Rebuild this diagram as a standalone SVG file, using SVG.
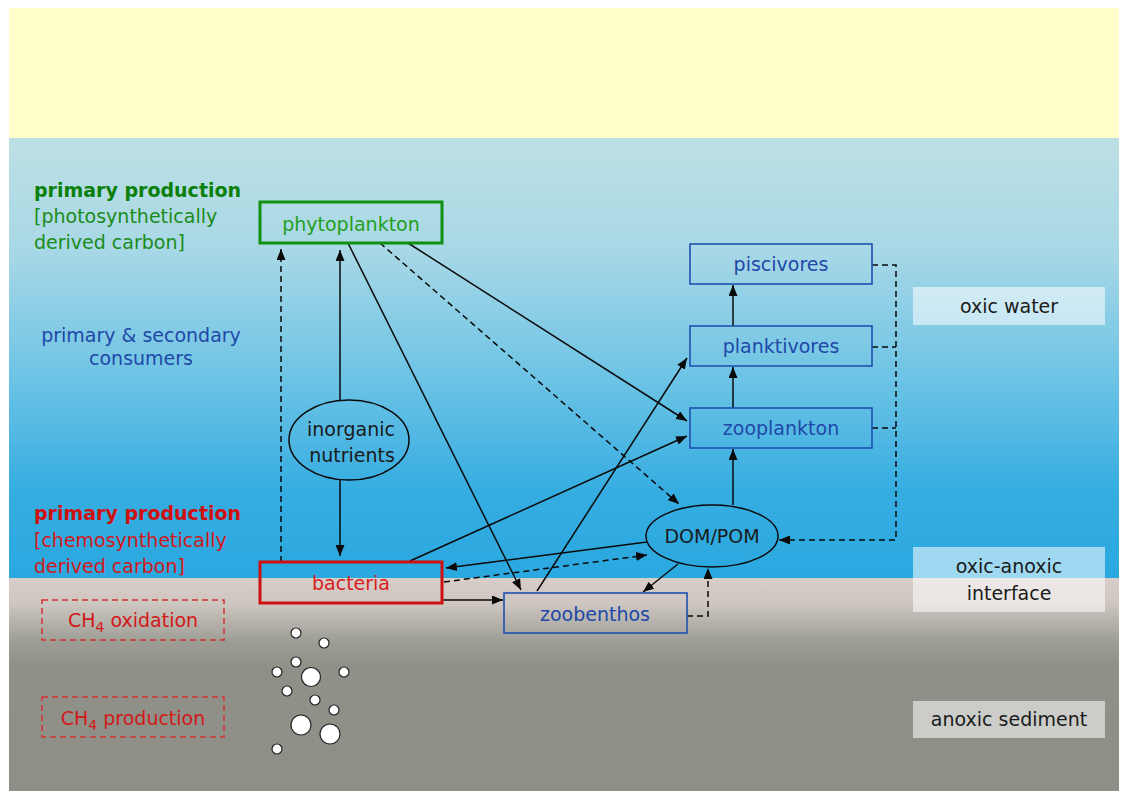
<svg xmlns="http://www.w3.org/2000/svg" width="1122" height="794" viewBox="0 0 1122 794">
<style>
text{font-family:"DejaVu Sans","Verdana",sans-serif;font-size:19px}
.g{fill:#1a8c1a}.gb{fill:#0a800a;font-weight:bold}
.r{fill:#d21818}.rb{fill:#d01010;font-weight:bold}
.b{fill:#2048a8}
.k{fill:#1a1a1a}
.c{text-anchor:middle}
.bn{fill:none;stroke:#2050b0;stroke-width:1.6}
.lab{fill:#ffffff;fill-opacity:0.55}
.ln{fill:none;stroke:#0a0a0a;stroke-width:1.5}
.ds{stroke-dasharray:6 4}
</style>
<defs>
<linearGradient id="water" x1="0" y1="0" x2="0" y2="1">
<stop offset="0" stop-color="#bce0e4"/>
<stop offset="0.25" stop-color="#a9d8e6"/>
<stop offset="0.55" stop-color="#6cc3e5"/>
<stop offset="0.8" stop-color="#36ade1"/>
<stop offset="1" stop-color="#2aa8e0"/>
</linearGradient>
<linearGradient id="sed" x1="0" y1="0" x2="0" y2="1">
<stop offset="0" stop-color="#d7cdc9"/>
<stop offset="0.12" stop-color="#cec6c1"/>
<stop offset="0.3" stop-color="#9c9d95"/>
<stop offset="0.42" stop-color="#8f9189"/>
<stop offset="1" stop-color="#8e9088"/>
</linearGradient>
<marker id="ah" markerUnits="userSpaceOnUse" markerWidth="11" markerHeight="9" refX="11" refY="4.5" orient="auto">
<path d="M0,0 L11,4.5 L0,9 z" fill="#0a0a0a"/>
</marker>
</defs>
<rect width="1122" height="794" fill="#ffffff"/>
<rect x="9" y="8" width="1110" height="130" fill="#ffffcc"/>
<rect x="9" y="138" width="1110" height="440" fill="url(#water)"/>
<rect x="9" y="578" width="1110" height="213" fill="url(#sed)"/>

<g id="left-labels">
<text x="34" y="197" class="gb">primary production</text>
<text x="34" y="223" class="g">[photosynthetically</text>
<text x="34" y="249" class="g">derived carbon]</text>
<text x="141" y="342" class="b c">primary &amp; secondary</text>
<text x="141" y="365" class="b c">consumers</text>
<text x="34" y="520" class="rb">primary production</text>
<text x="34" y="547" class="r">[chemosynthetically</text>
<text x="34" y="573" class="r">derived carbon]</text>
</g>

<g id="right-labels">
<rect x="913" y="287" width="192" height="38" class="lab"/>
<text x="1009" y="313" class="k c">oxic water</text>
<rect x="913" y="547" width="192" height="65" class="lab"/>
<text x="1009" y="573" class="k c">oxic-anoxic</text>
<text x="1009" y="600" class="k c">interface</text>
<rect x="913" y="701" width="192" height="37" class="lab"/>
<text x="1009" y="726" class="k c">anoxic sediment</text>
</g>

<g id="connectors">
<line x1="281" y1="562" x2="281" y2="249" class="ln ds" marker-end="url(#ah)"/>
<line x1="340" y1="400" x2="340" y2="250" class="ln" marker-end="url(#ah)"/>
<line x1="340" y1="480" x2="340" y2="556" class="ln" marker-end="url(#ah)"/>
<line x1="348" y1="243" x2="521" y2="590" class="ln" marker-end="url(#ah)"/>
<line x1="380" y1="243" x2="679" y2="504" class="ln ds" marker-end="url(#ah)"/>
<line x1="408" y1="243" x2="687" y2="421" class="ln" marker-end="url(#ah)"/>
<line x1="410" y1="561" x2="687" y2="436" class="ln" marker-end="url(#ah)"/>
<line x1="537" y1="591" x2="687" y2="358" class="ln" marker-end="url(#ah)"/>
<line x1="647" y1="542" x2="446" y2="568" class="ln" marker-end="url(#ah)"/>
<line x1="444" y1="582" x2="647" y2="555" class="ln ds" marker-end="url(#ah)"/>
<line x1="443" y1="600" x2="503" y2="600" class="ln" marker-end="url(#ah)"/>
<line x1="678" y1="564" x2="643" y2="592" class="ln" marker-end="url(#ah)"/>
<polyline points="687,616 708,616 708,568" class="ln ds" marker-end="url(#ah)"/>
<line x1="733" y1="505" x2="733" y2="449" class="ln" marker-end="url(#ah)"/>
<line x1="733" y1="408" x2="733" y2="367" class="ln" marker-end="url(#ah)"/>
<line x1="733" y1="326" x2="733" y2="285" class="ln" marker-end="url(#ah)"/>
<polyline points="872,265 896,265 896,540 779,540" class="ln ds" marker-end="url(#ah)"/>
<line x1="872" y1="347" x2="896" y2="347" class="ln ds"/>
<line x1="872" y1="428" x2="896" y2="428" class="ln ds"/>
</g>

<g id="phytoplankton">
<rect x="260" y="202" width="182" height="41" fill="none" stroke="#109010" stroke-width="3"/>
<text x="351" y="231" class="c" fill="#22a022">phytoplankton</text>
</g>
<g id="inorganic-nutrients">
<ellipse cx="349" cy="440" rx="60" ry="40" fill="none" stroke="#0a0a0a" stroke-width="1.5"/>
<text x="351" y="436" class="k c">inorganic</text>
<text x="352" y="462" class="k c">nutrients</text>
</g>
<g id="bacteria">
<rect x="260" y="562" width="182" height="41" fill="none" stroke="#d01010" stroke-width="3"/>
<text x="351" y="590" class="c" fill="#d82020">bacteria</text>
</g>
<g id="piscivores">
<rect x="690" y="244" width="182" height="40" class="bn"/>
<text x="781" y="271" class="b c">piscivores</text>
</g>
<g id="planktivores">
<rect x="690" y="326" width="182" height="40" class="bn"/>
<text x="781" y="353" class="b c">planktivores</text>
</g>
<g id="zooplankton">
<rect x="690" y="408" width="182" height="40" class="bn"/>
<text x="781" y="435" class="b c">zooplankton</text>
</g>
<g id="dom-pom">
<ellipse cx="712" cy="536" rx="66" ry="31" fill="none" stroke="#0a0a0a" stroke-width="1.5"/>
<text x="712" y="543" class="k c">DOM/POM</text>
</g>
<g id="zoobenthos">
<rect x="504" y="593" width="183" height="40" class="bn"/>
<text x="595" y="621" class="b c">zoobenthos</text>
</g>
<g id="ch4-oxidation">
<rect x="42" y="600" width="182" height="40" fill="none" stroke="#d83030" stroke-width="1.5" stroke-dasharray="6 4"/>
<text x="133" y="627" class="r c">CH<tspan font-size="14" dy="5">4</tspan><tspan dy="-5"> oxidation</tspan></text>
</g>
<g id="ch4-production">
<rect x="42" y="697" width="182" height="40" fill="none" stroke="#d83030" stroke-width="1.5" stroke-dasharray="6 4"/>
<text x="133" y="725" class="r c">CH<tspan font-size="14" dy="5">4</tspan><tspan dy="-5"> production</tspan></text>
</g>
<g id="bubbles" fill="#ffffff" stroke="#222" stroke-width="1.2">
<circle cx="296" cy="633" r="5"/>
<circle cx="324" cy="643" r="5"/>
<circle cx="296" cy="662" r="5"/>
<circle cx="277" cy="672" r="5"/>
<circle cx="311" cy="677" r="9.5"/>
<circle cx="344" cy="672" r="5"/>
<circle cx="287" cy="691" r="5"/>
<circle cx="315" cy="700" r="5"/>
<circle cx="334" cy="710" r="5"/>
<circle cx="301" cy="725" r="10"/>
<circle cx="330" cy="734" r="10"/>
<circle cx="277" cy="749" r="5"/>
</g>
</svg>
